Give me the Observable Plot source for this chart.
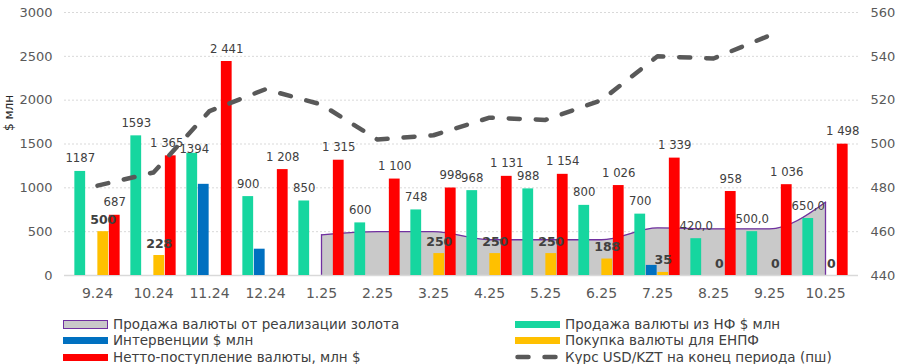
<!DOCTYPE html>
<html>
<head>
<meta charset="utf-8">
<script src="https://cdn.jsdelivr.net/npm/d3@7"></script>
<script src="https://cdn.jsdelivr.net/npm/@observablehq/plot@0.6"></script>
<style>
  body { margin: 0; background: #fff; font-family: "DejaVu Sans", Verdana, sans-serif; }
  #wrap { position: relative; width: 899px; height: 364px; overflow: hidden; }
  #legend { position: absolute; left: 0; top: 0; width: 899px; height: 364px; }
  .item { position: absolute; display: flex; align-items: center; height: 16px; font-size: 13.5px; color: #404040; white-space: nowrap;
          font-family: "DejaVu Sans", Verdana, sans-serif; }
  .sw { width: 45px; height: 7px; margin-right: 5px; flex: none; box-sizing: border-box; }
</style>
</head>
<body>
<div id="wrap"><div id="chart"></div><div id="legend"></div></div>
<script>
// ---- data ----
const categories = ["9.24","10.24","11.24","12.24","1.25","2.25","3.25","4.25","5.25","6.25","7.25","8.25","9.25","10.25"];
const goldSales = [null,null,null,null,464,500,500,408,408,408,543,532,532,836];
const nfSales = [1187,1593,1394,900,850,600,748,968,988,800,700,420,500,650];
const nfLabels = ["1187","1593","1394","900","850","600","748","968","988","800","700","420,0","500,0","650,0"];
const interventions = [null,null,1040,300,null,null,null,null,null,null,115,null,null,null];
const enpfPurchases = [500,228,null,null,null,null,250,250,250,188,35,0,0,0];
const netInflow = [687,1365,2441,1208,1315,1100,998,1131,1154,1026,1339,958,1036,1498];
const usdKzt = [481,487,515,525,518,502,504,512,511,520,540,539,549.5,null];
const leftTicks = [0,500,1000,1500,2000,2500,3000];
const rightTicks = [440,460,480,500,520,540,560];
const seriesNames = {
  gold: "Продажа валюты от реализации золота",
  nf: "Продажа валюты из НФ $ млн",
  iv: "Интервенции $ млн",
  enpf: "Покупка валюты для ЕНПФ",
  net: "Нетто-поступление валюты, млн $",
  rate: "Курс USD/KZT на конец периода (пш)"
};
const colors = { gold: "#c9c9c9", goldLine: "#7030a0", nf: "#16d69f", iv: "#0070c0", enpf: "#ffc000", net: "#ff0000", rate: "#595959" };

// ---- helpers ----
const fmtSpace = d3.formatLocale({decimal: ",", thousands: "\u00a0", grouping: [3], currency: ["", ""]}).format(",d");
const toLeft = v => (v - 440) * 25;           // right axis (440..560) -> left axis (0..3000)
const fromLeft = d => 440 + d / 25;

const rows = categories.map((c, i) => ({
  c, gold: goldSales[i], nf: nfSales[i], nfLabel: nfLabels[i], iv: interventions[i],
  enpf: enpfPurchases[i], net: netInflow[i], rate: usdKzt[i] == null ? null : toLeft(usdKzt[i])
}));
const goldRows = rows.filter(d => d.gold != null);
const goldEnds = [goldRows[0], goldRows[goldRows.length - 1]];

const W = 899, H = 305, mL = 64, mR = 41, mT = 12, mB = 30;
const band = (W - mL - mR) / categories.length;
const bw = 11.5;
const inset = (band - bw) / 2;
const off = [-1.5, -0.5, 0.5, 1.5].map(k => k * bw);

// label placement tweaks where labels collide (as in the original)
const nudge = {"nf|11.24": [2, 9], "net|10.24": [-4, 0]};

const barOpts = (key, k) => ({x: "c", y: key, fill: colors[key], dx: off[k], insetLeft: inset, insetRight: inset});
const lab = (key, k, extra) => {
  const base = Object.assign({x: "c", y: key, dy: -9, lineAnchor: "bottom", fontSize: 11.7, fill: "#404040"}, extra);
  const data = rows.filter(d => d[key] != null);
  const plain = data.filter(d => !nudge[key + "|" + d.c]);
  const marks = [Plot.text(plain, Object.assign({}, base, {dx: off[k]}))];
  for (const d of data.filter(d => nudge[key + "|" + d.c])) {
    const [ndx, ndy] = nudge[key + "|" + d.c];
    marks.push(Plot.text([d], Object.assign({}, base, {dx: off[k] + ndx, dy: base.dy + ndy})));
  }
  return marks;
};

const chart = Plot.plot({
  width: W, height: H, marginLeft: mL, marginRight: mR, marginTop: mT, marginBottom: mB,
  style: {fontFamily: "'DejaVu Sans', Verdana, sans-serif", background: "#fff", overflow: "visible"},
  x: {domain: categories, padding: 0},
  y: {domain: [0, 3000]},
  marks: [
    Plot.gridY(leftTicks.slice(1), {stroke: "#d9d9d9", strokeOpacity: 1, strokeDasharray: "2,2"}),
    Plot.areaY(goldRows, {x: "c", y: "gold", fill: colors.gold, curve: "monotone-x"}),
    Plot.lineY(goldRows, {x: "c", y: "gold", stroke: colors.goldLine, strokeWidth: 1.3, curve: "monotone-x"}),
    Plot.ruleX(goldEnds, {x: "c", y1: 0, y2: "gold", stroke: colors.goldLine, strokeWidth: 1.3}),
    Plot.ruleY([0], {stroke: "#d9d9d9", strokeWidth: 1.5}),
    Plot.barY(rows.filter(d => d.nf != null), barOpts("nf", 0)),
    Plot.barY(rows.filter(d => d.iv != null), barOpts("iv", 1)),
    Plot.barY(rows.filter(d => d.enpf != null), barOpts("enpf", 2)),
    Plot.barY(rows.filter(d => d.net != null), barOpts("net", 3)),
    ...lab("nf", 0, {text: "nfLabel"}),
    ...lab("net", 3, {text: d => fmtSpace(d.net)}),
    ...lab("enpf", 2, {text: d => String(d.enpf), fontWeight: "bold", fontSize: 12.5, dy: -8}),
    Plot.lineY(rows.filter(d => d.rate != null), {x: "c", y: "rate", stroke: colors.rate, strokeWidth: 4.5,
      strokeDasharray: "11,16", strokeLinecap: "round", strokeLinejoin: "round"}),
    Plot.axisX({tickSize: 0, tickPadding: 13, fontSize: 14, color: "#595959", label: null}),
    Plot.axisY(leftTicks, {anchor: "left", tickSize: 0, tickPadding: 12, fontSize: 13, color: "#595959", label: null,
      tickFormat: d => String(d)}),
    Plot.axisY(rightTicks.map(toLeft), {anchor: "right", tickSize: 0, tickPadding: 12, fontSize: 13, color: "#595959",
      label: null, tickFormat: d => String(fromLeft(d))}),
    Plot.text(["$ млн"], {frameAnchor: "left", rotate: -90, dx: -55, dy: -13, fontSize: 12, fill: "#262626"})
  ]
});
document.getElementById("chart").appendChild(chart);

// ---- legend ----
const legendItems = [
  {key: "gold", left: 63, cy: 324}, {key: "iv", left: 63, cy: 340}, {key: "net", left: 63, cy: 357},
  {key: "nf", left: 515, cy: 324}, {key: "enpf", left: 515, cy: 340}, {key: "rate", left: 515, cy: 357}
];
const legend = document.getElementById("legend");
for (const it of legendItems) {
  const div = document.createElement("div");
  div.className = "item";
  div.style.left = it.left + "px";
  div.style.top = (it.cy - 8) + "px";
  let sw;
  if (it.key === "rate") {
    sw = document.createElementNS("http://www.w3.org/2000/svg", "svg");
    sw.setAttribute("width", 45); sw.setAttribute("height", 8);
    sw.style.marginRight = "5px";
    sw.innerHTML = `<line x1="2.5" y1="4" x2="43" y2="4" stroke="${colors.rate}" stroke-width="4.5" stroke-linecap="round" stroke-dasharray="11,16"/>`;
  } else {
    sw = document.createElement("div");
    sw.className = "sw";
    sw.style.background = colors[it.key];
    if (it.key === "gold") { sw.style.border = `1.3px solid ${colors.goldLine}`; sw.style.height = "9px"; }
  }
  const span = document.createElement("span");
  span.textContent = seriesNames[it.key];
  div.appendChild(sw); div.appendChild(span);
  legend.appendChild(div);
}
</script>
</body>
</html>
